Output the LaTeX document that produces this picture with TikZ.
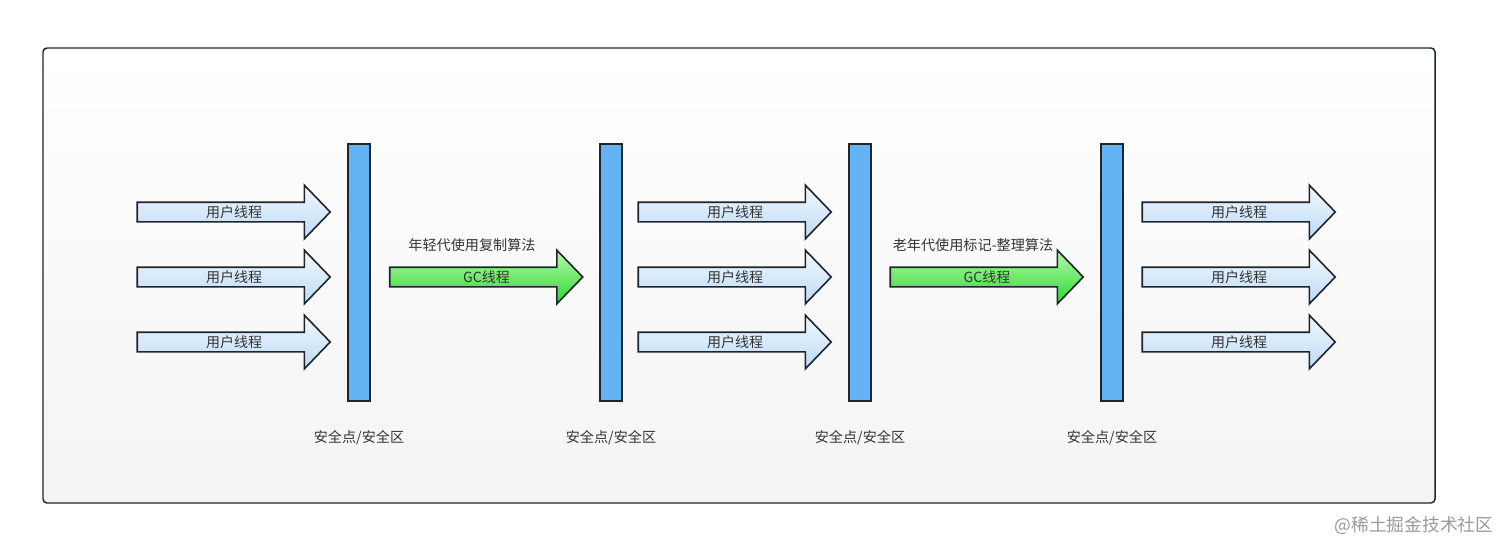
\documentclass[tikz,border=0pt]{standalone}
\usepackage{fontspec}
\setmainfont{Noto Sans CJK SC}
\usepackage{tikz}
\usetikzlibrary{shapes.arrows,positioning}
\definecolor{lineblk}{HTML}{1E252B}
\definecolor{txtgray}{HTML}{333333}
\definecolor{ublueA}{HTML}{F2F8FE}
\definecolor{ublueB}{HTML}{BCDAF6}
\definecolor{ggreenA}{HTML}{B4FCAC}
\definecolor{ggreenB}{HTML}{2ED62E}
\definecolor{barblue}{HTML}{63B3F5}
\definecolor{bgtop}{HTML}{FFFFFF}
\definecolor{bgbot}{HTML}{F4F4F4}

\begin{document}
\begin{tikzpicture}[x=0.75pt,y=-0.75pt,
  uarrow/.style={single arrow,draw=lineblk,line width=1.2pt,top color=ublueA,bottom color=ublueB,
    single arrow head extend=12.75pt,single arrow tip angle=92,minimum height=144.75pt,
    inner xsep=0pt,inner ysep=0pt,text height=10.65pt,text depth=2.85pt,
    execute at begin node=\hspace*{7.5pt},
    font=\fontsize{10.5}{12}\selectfont,text=txtgray},
  gcarrow/.style={uarrow,top color=ggreenA,bottom color=ggreenB},
  barbox/.style={draw=lineblk,line width=1.1pt,fill=barblue,minimum width=16.5pt,minimum height=192.75pt,inner sep=0pt},
  lbl/.style={font=\fontsize{10.6}{12}\selectfont,text=txtgray,inner sep=0pt}]
\useasboundingbox (0,0) rectangle (1512,556);
\draw[draw=lineblk,line width=1.1pt,rounded corners=3pt,top color=bgtop,bottom color=bgbot] (43,48) rectangle (1435,503);
% safe point bars
\foreach \x/\n in {359/1,611/2,860/3,1112/4} {
  \node[barbox] (bar\n) at (\x,272.5) {};
  \node[lbl] (safe\n) at (\x,438) {安全点/安全区};
}
% user threads
\foreach \x/\s in {229/a,730/b,1234/c}
  \foreach \y/\r in {212/1,277/2,342/3}
    \node[uarrow] (u\s\r) at (\x,\y) {用户线程};
% gc threads
\node[gcarrow] (gc1) at (481.5,277) {GC线程};
\node[gcarrow] (gc2) at (982,277) {GC线程};
\node[lbl] (gct1) at (472,245) {年轻代使用复制算法};
\node[lbl] (gct2) at (973,245) {老年代使用标记-整理算法};
\node[lbl,font=\fontsize{13.3}{15}\selectfont,text=black!40] (mark) at (1414,525) {@稀土掘金技术社区};
\end{tikzpicture}
\end{document}
